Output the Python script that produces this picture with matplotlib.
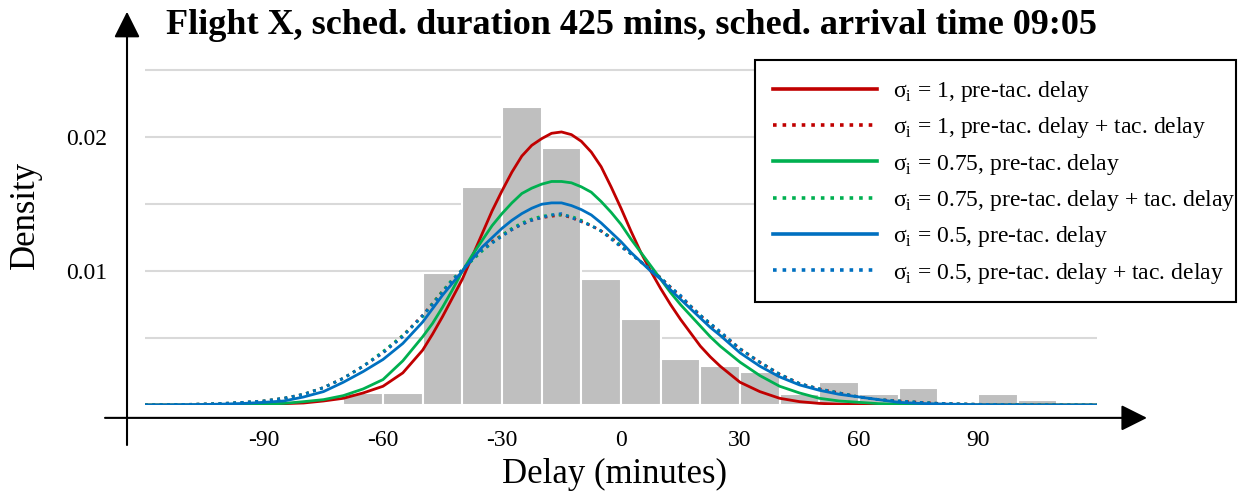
import numpy as np
import matplotlib
matplotlib.use("Agg")
import matplotlib.pyplot as plt
from matplotlib.patches import Rectangle

plt.rcParams["font.family"] = ["Liberation Serif", "DejaVu Serif"]

# histogram of observed delays (10-minute bins, left edges)
bin_left = [-70, -60, -50, -40, -30, -20, -10, 0, 10, 20, 30, 40, 50, 60, 70, 80, 90, 100]
bin_density = [0.00086, 0.00086, 0.00986, 0.01628, 0.02227, 0.01922, 0.00942, 0.0064,
               0.0034, 0.0029, 0.0025, 0.00084, 0.0017, 0.00084, 0.00126, 0.0, 0.00084, 0.0004]

# density curves: 5-min steps in the tails, 2.5-min steps in the middle
delay = ([-120, -115, -110, -105, -100, -95, -90, -85, -80, -75, -70, -65, -60, -55]
         + [-50, -47.5, -45, -42.5, -40, -37.5, -35, -32.5, -30, -27.5, -25, -22.5, -20,
            -17.5, -15, -12.5, -10, -7.5, -5, -2.5, 0, 2.5, 5, 7.5, 10, 12.5, 15, 17.5,
            20, 22.5, 25]
         + [30, 35, 40, 45, 50, 55, 60, 65, 70, 75, 80, 85, 90, 95, 100, 105, 110, 115, 120])

red_pre = ([0, 0, 0, 0, 0, 0.00002, 0.00005, 0.0001, 0.00015, 0.0003, 0.0005, 0.0009, 0.0014, 0.0024]
           + [0.0041, 0.0053, 0.0066, 0.0080, 0.0094, 0.0111, 0.0128, 0.0145, 0.0160, 0.0174,
              0.0186, 0.0194, 0.0199, 0.0203, 0.0204, 0.0202, 0.0197, 0.0189, 0.0178, 0.0163,
              0.0147, 0.0130, 0.0114, 0.0100, 0.0087, 0.0075, 0.0064, 0.0054, 0.0044, 0.0036,
              0.0029]
           + [0.0017, 0.0010, 0.0005, 0.00025, 0.00012, 0.00006, 0.00003,
              0, 0, 0, 0, 0, 0, 0, 0, 0, 0, 0, 0])
green_pre = ([0, 0, 0, 0, 0, 0.00003, 0.00006, 0.00012, 0.00025, 0.0004, 0.0007, 0.0012, 0.0019, 0.0033]
             + [0.0051, 0.0061, 0.0073, 0.0086, 0.0100, 0.0112, 0.0123, 0.0134, 0.0143, 0.0151,
                0.0158, 0.0162, 0.0165, 0.0167, 0.0167, 0.0166, 0.0163, 0.0159, 0.0152, 0.0144,
                0.0135, 0.0124, 0.0114, 0.0104, 0.0094, 0.0084, 0.0075, 0.0067, 0.0059, 0.0051,
                0.0044]
             + [0.0032, 0.0022, 0.0014, 0.0009, 0.0005, 0.0003, 0.0002, 0.0001, 0.00005, 0.00002,
                0, 0, 0, 0, 0, 0, 0, 0, 0])
blue_pre = ([0, 0.00001, 0.00002, 0.00004, 0.00007, 0.00012, 0.0002, 0.0003, 0.0006, 0.0010,
             0.0017, 0.0025, 0.0034, 0.0046]
            + [0.0062, 0.0072, 0.0082, 0.0091, 0.0100, 0.0109, 0.0118, 0.0125, 0.0132, 0.0138,
               0.0143, 0.0147, 0.0150, 0.0151, 0.0151, 0.0149, 0.0146, 0.0142, 0.0136, 0.0129,
               0.0122, 0.0114, 0.0107, 0.0100, 0.0094, 0.0086, 0.0079, 0.0072, 0.0065, 0.0058,
               0.0052]
            + [0.0039, 0.0029, 0.0021, 0.0015, 0.0011, 0.0008, 0.0006, 0.0004, 0.0002, 0.00012,
               0.00008, 0.00005, 0.00002, 0.00001, 0, 0, 0, 0, 0])
red_tac = ([0, 0.00002, 0.00004, 0.00007, 0.00012, 0.0002, 0.0003, 0.0005, 0.0008, 0.0013,
            0.0020, 0.0029, 0.0039, 0.0052]
           + [0.0067, 0.0076, 0.0085, 0.0093, 0.0101, 0.0109, 0.0116, 0.0122, 0.0127, 0.0131,
              0.0135, 0.0138, 0.0140, 0.0141, 0.0142, 0.0140, 0.0137, 0.0134, 0.0130, 0.0125,
              0.0119, 0.0113, 0.0107, 0.0101, 0.0095, 0.0088, 0.0081, 0.0074, 0.0067, 0.0060,
              0.0054]
           + [0.0042, 0.0032, 0.0023, 0.0016, 0.0012, 0.0009, 0.0006, 0.0004, 0.0003, 0.0002,
              0.00012, 0.00008, 0.00005, 0.00003, 0.00002, 0.00001, 0, 0, 0])
green_tac = ([0, 0.00002, 0.00004, 0.00007, 0.00012, 0.0002, 0.0003, 0.0005, 0.0008, 0.0013,
              0.0020, 0.0029, 0.0040, 0.0052]
             + [0.0066, 0.0076, 0.0085, 0.0094, 0.0101, 0.0108, 0.0115, 0.0121, 0.0127, 0.0132,
                0.0136, 0.0139, 0.0141, 0.0142, 0.0142, 0.0141, 0.0138, 0.0134, 0.0130, 0.0125,
                0.0119, 0.0113, 0.0107, 0.0101, 0.0095, 0.0088, 0.0081, 0.0074, 0.0067, 0.0061,
                0.0054]
             + [0.0042, 0.0032, 0.0023, 0.0016, 0.0012, 0.0009, 0.0006, 0.0004, 0.0003, 0.0002,
                0.00012, 0.00008, 0.00005, 0.00003, 0.00002, 0.00001, 0, 0, 0])
blue_tac = ([0, 0.00002, 0.00004, 0.00007, 0.00012, 0.0002, 0.0003, 0.0005, 0.0008, 0.0013,
             0.0020, 0.0029, 0.0039, 0.0051]
            + [0.0067, 0.0075, 0.0084, 0.0093, 0.0101, 0.0109, 0.0116, 0.0121, 0.0126, 0.0131,
               0.0135, 0.0138, 0.0140, 0.0142, 0.0143, 0.0140, 0.0137, 0.0134, 0.0130, 0.0124,
               0.0118, 0.0113, 0.0107, 0.0101, 0.0095, 0.0088, 0.0082, 0.0074, 0.0067, 0.0061,
               0.0055]
            + [0.0042, 0.0032, 0.0023, 0.0016, 0.0012, 0.0009, 0.0006, 0.0004, 0.0003, 0.0002,
               0.00012, 0.00008, 0.00005, 0.00003, 0.00002, 0.00001, 0, 0, 0])

labels = [" = 1, pre-tac. delay", " = 1, pre-tac. delay + tac. delay",
          " = 0.75, pre-tac. delay", " = 0.75, pre-tac. delay + tac. delay",
          " = 0.5, pre-tac. delay", " = 0.5, pre-tac. delay + tac. delay"]
xticks = [-90, -60, -30, 0, 30, 60, 90]
grid_levels = [0.005, 0.01, 0.015, 0.02, 0.025]
ytick_labels = ["", "0.01", "", "0.02", ""]

RED, GREEN, BLUE = "#C00000", "#00B050", "#0070C0"
W, H = 1238, 492

fig = plt.figure(figsize=(W / 100, H / 100), dpi=100)
ax = fig.add_axes([145 / W, 87 / H, 952 / W, 348 / H])

ax.bar(bin_left, bin_density, width=10, align="edge", color="#BFBFBF",
       edgecolor="white", linewidth=1.5, zorder=2)

series = [(red_pre, RED, "-"), (red_tac, RED, ":"), (green_pre, GREEN, "-"),
          (green_tac, GREEN, ":"), (blue_pre, BLUE, "-"), (blue_tac, BLUE, ":")]
for (vals, col, ls), lab in zip(series, labels):
    ax.plot(delay, vals, color=col, linestyle=ls, linewidth=2.0, zorder=3,
            label="σ$_\\mathregular{i}$" + lab)

ax.set_xlim(-120, 120)
ax.set_ylim(0, 0.026)
ax.set_yticks(grid_levels)
ax.set_yticklabels(ytick_labels)
ax.set_xticks(xticks)
ax.set_xticklabels([str(t) for t in xticks])
ax.tick_params(axis="both", length=0, labelsize=17)
ax.tick_params(axis="y", pad=27)
ax.tick_params(axis="x", pad=18)
ax.grid(axis="y", color="#D9D9D9", linewidth=1.5, zorder=0)
ax.set_axisbelow(True)
for s in ax.spines.values():
    s.set_visible(False)

# arrowed axes, drawn slightly outside the plot area
arrow = dict(arrowstyle="-|>,head_length=0.8,head_width=0.4", color="black",
             lw=1.5, mutation_scale=20, shrinkA=0, shrinkB=0)
ax.annotate("", xy=(1.0525, -0.037), xytext=(-0.042, -0.037),
            xycoords="axes fraction", arrowprops=arrow, annotation_clip=False)
ax.annotate("", xy=(-0.0189, 1.13), xytext=(-0.0189, -0.115),
            xycoords="axes fraction", arrowprops=arrow, annotation_clip=False)

fig.text(631 / W, 1 - 25 / H, "Flight X, sched. duration 425 mins, sched. arrival time 09:05",
         ha="center", va="center", fontsize=26, fontweight="bold")
fig.text(615 / W, 1 - 474 / H, "Delay (minutes)", ha="center", va="center", fontsize=25)
fig.text(25 / W, 1 - 215 / H, "Density", ha="center", va="center", fontsize=25, rotation=90)

# legend box (Excel style: more padding top/bottom than at the sides)
ax.add_patch(Rectangle((755 / W, 1 - 302 / H), 481 / W, 242 / H, transform=fig.transFigure,
                       facecolor="white", edgecolor="black", linewidth=1.5,
                       clip_on=False, zorder=4))
leg = ax.legend(loc="upper left", bbox_to_anchor=(773 / W, 1 - 79 / H),
                bbox_transform=fig.transFigure, fontsize=17, frameon=False,
                handlelength=4.4, handletextpad=0.68, borderpad=0, labelspacing=0.48,
                borderaxespad=0)
leg.set_zorder(5)
for ln in leg.get_lines():
    ln.set_linewidth(2.6)

fig.savefig("out.png", dpi=100)
